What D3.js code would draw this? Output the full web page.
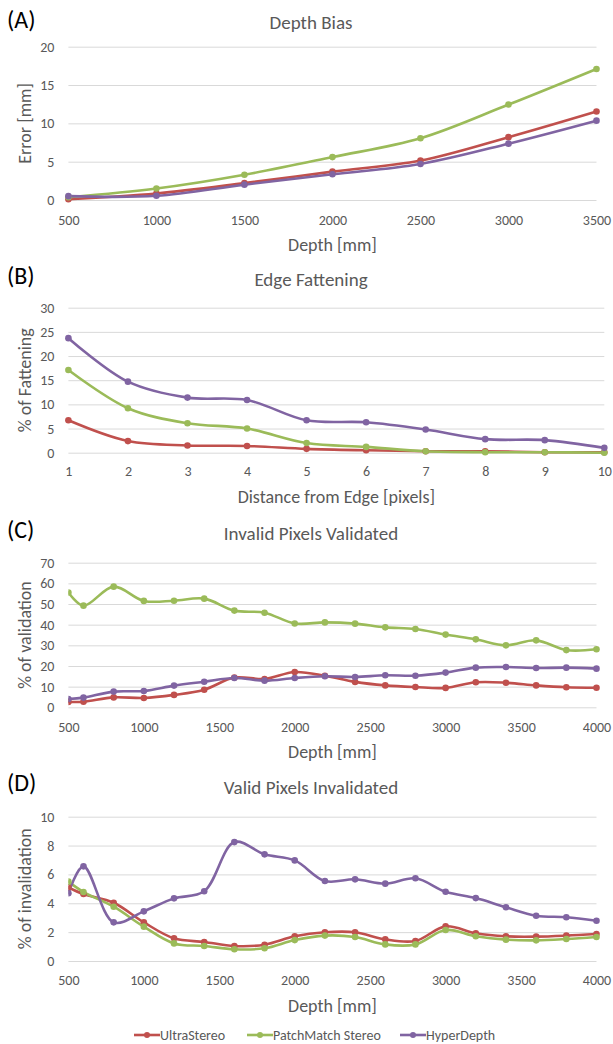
<!DOCTYPE html>
<html><head><meta charset="utf-8">
<script src="https://cdn.jsdelivr.net/npm/d3@7"></script>
<style>
html,body{margin:0;padding:0;background:#fff;}
svg text{font-family:Carlito,Lato,"Open Sans",sans-serif;}
</style></head>
<body>
<svg id="chart" width="613" height="1044"></svg>
<script>
// ---------- DATA ----------
const seriesNames = ["UltraStereo", "PatchMatch Stereo", "HyperDepth"];
const seriesColors = ["#C0504D", "#9BBB59", "#8064A2"];

// (A) Depth Bias
const depthA = [500, 1000, 1500, 2000, 2500, 3000, 3500];
const biasUltra = [0.1, 0.85, 2.2, 3.7, 5.15, 8.2, 11.55];
const biasPatch = [0.35, 1.5, 3.3, 5.6, 8.05, 12.45, 17.1];
const biasHyper = [0.5, 0.55, 2.0, 3.35, 4.7, 7.35, 10.35];
const ticksA_y = [0, 5, 10, 15, 20];
const ticksA_x = [500, 1000, 1500, 2000, 2500, 3000, 3500];

// (B) Edge Fattening
const distB = [1, 2, 3, 4, 5, 6, 7, 8, 9, 10];
const fatUltra = [6.7, 2.4, 1.5, 1.4, 0.8, 0.5, 0.3, 0.3, 0.1, 0.1];
const fatPatch = [17.1, 9.2, 6.1, 5.0, 2.0, 1.2, 0.3, 0.1, 0.1, 0.0];
const fatHyper = [23.7, 14.7, 11.4, 10.9, 6.7, 6.3, 4.8, 2.8, 2.6, 1.0];
const ticksB_y = [0, 5, 10, 15, 20, 25, 30];
const ticksB_x = [1, 2, 3, 4, 5, 6, 7, 8, 9, 10];

// (C) Invalid Pixels Validated / (D) Valid Pixels Invalidated
const depthCD = [500, 600, 800, 1000, 1200, 1400, 1600, 1800, 2000, 2200, 2400, 2600, 2800, 3000, 3200, 3400, 3600, 3800, 4000];
const valUltra = [2.6, 2.7, 4.8, 4.5, 6.0, 8.5, 14.4, 13.7, 17.1, 15.3, 12.3, 10.6, 9.8, 9.4, 12.1, 11.9, 10.6, 9.7, 9.5];
const valPatch = [55.6, 49.2, 58.4, 51.5, 51.6, 52.6, 46.8, 45.8, 40.6, 41.1, 40.5, 38.7, 37.9, 35.2, 32.9, 30.0, 32.4, 27.7, 28.1];
const valHyper = [4.0, 4.7, 7.6, 7.9, 10.5, 12.4, 14.2, 12.9, 14.2, 15.0, 14.7, 15.5, 15.3, 16.8, 19.2, 19.5, 19.0, 19.2, 18.7];
const ticksC_y = [0, 10, 20, 30, 40, 50, 60, 70];
const invUltra = [5.1, 4.64, 4.04, 2.68, 1.57, 1.32, 1.04, 1.13, 1.71, 1.99, 1.99, 1.5, 1.39, 2.4, 1.92, 1.71, 1.69, 1.76, 1.87];
const invPatch = [5.5, 4.78, 3.76, 2.38, 1.22, 1.04, 0.81, 0.88, 1.45, 1.76, 1.66, 1.15, 1.15, 2.15, 1.71, 1.48, 1.43, 1.52, 1.66];
const invHyper = [4.7, 6.56, 2.68, 3.44, 4.34, 4.83, 8.24, 7.39, 6.97, 5.54, 5.66, 5.36, 5.73, 4.80, 4.36, 3.72, 3.14, 3.03, 2.79];
const ticksD_y = [0, 2, 4, 6, 8, 10];
const ticksCD_x = [500, 1000, 1500, 2000, 2500, 3000, 3500, 4000];

const panelLabels = ["(A)", "(B)", "(C)", "(D)"];
const panelTitles = ["Depth Bias", "Edge Fattening", "Invalid Pixels Validated", "Valid Pixels Invalidated"];
const xTitles = ["Depth [mm]", "Distance from Edge [pixels]", "Depth [mm]", "Depth [mm]"];
const yTitles = ["Error [mm]", "% of Fattening", "% of validation", "% of invalidation"];

// ---------- LAYOUT ----------
const panels = [
  {x: depthA, ys: [biasUltra, biasPatch, biasHyper], xDom: [500, 3500], yDom: [0, 20], xt: ticksA_x, yt: ticksA_y,
   left: 68.4, right: 596.5, top: 46.7, bottom: 200, titleY: 29, labelY: 27.5, xtY: 225, xTitleY: 251, clip: false},
  {x: distB, ys: [fatUltra, fatPatch, fatHyper], xDom: [1, 10], yDom: [0, 30], xt: ticksB_x, yt: ticksB_y,
   left: 68.4, right: 604.3, top: 307.7, bottom: 452.7, titleY: 286, labelY: 283.5, xtY: 476, xTitleY: 502.5, clip: false},
  {x: depthCD, ys: [valUltra, valPatch, valHyper], xDom: [500, 4000], yDom: [0, 70], xt: ticksCD_x, yt: ticksC_y,
   left: 68.4, right: 596.5, top: 562.7, bottom: 707.3, titleY: 540, labelY: 537.5, xtY: 731.5, xTitleY: 757.5, clip: true},
  {x: depthCD, ys: [invUltra, invPatch, invHyper], xDom: [500, 4000], yDom: [0, 10], xt: ticksCD_x, yt: ticksD_y,
   left: 68.4, right: 596.5, top: 816.7, bottom: 961, titleY: 794, labelY: 790.5, xtY: 985, xTitleY: 1011.5, clip: true}
];

const svg = d3.select("#chart");
const textGray = "#595959";

panels.forEach((p, i) => {
  const g = svg.append("g");
  const xs = d3.scaleLinear().domain(p.xDom).range([p.left, p.right]);
  const ys = d3.scaleLinear().domain(p.yDom).range([p.bottom, p.top]);

  // gridlines + y tick labels via axis
  const yAxis = d3.axisLeft(ys).tickValues(p.yt).tickSize(-(p.right - p.left)).tickPadding(14).tickFormat(d3.format("d"));
  const ya = g.append("g").attr("transform", `translate(${p.left},0)`).call(yAxis);
  ya.select(".domain").remove();
  ya.selectAll(".tick line").attr("stroke", "#d9d9d9").attr("stroke-width", 1);
  ya.selectAll(".tick text").attr("fill", textGray).attr("font-size", 14).attr("x", -14);

  // x tick labels
  const xAxis = d3.axisBottom(xs).tickValues(p.xt).tickSize(0).tickFormat(d3.format("d"));
  const xa = g.append("g").attr("transform", `translate(0,${p.xtY})`).call(xAxis);
  xa.select(".domain").remove();
  xa.selectAll(".tick text").attr("fill", textGray).attr("font-size", 14).attr("dy", 0).attr("y", 0);

  // titles
  g.append("text").attr("x", 7).attr("y", p.labelY).attr("font-size", 24).attr("fill", "#000").text(panelLabels[i]);
  g.append("text").attr("x", 311).attr("y", p.titleY).attr("text-anchor", "middle").attr("font-size", 19).attr("fill", textGray).text(panelTitles[i]);
  g.append("text").attr("x", (p.left + p.right) / 2).attr("y", p.xTitleY).attr("text-anchor", "middle").attr("font-size", 18).attr("fill", textGray).text(xTitles[i]);
  g.append("text").attr("transform", `translate(31,${(p.top + p.bottom) / 2}) rotate(-90)`).attr("text-anchor", "middle").attr("font-size", 18).attr("fill", textGray).text(yTitles[i]);

  // clip
  const clipId = "clip" + i;
  svg.append("clipPath").attr("id", clipId).append("rect")
    .attr("x", p.left).attr("y", p.top - 20).attr("width", p.right - p.left + 10).attr("height", p.bottom - p.top + 40);

  const sg = g.append("g");
  if (p.clip) sg.attr("clip-path", `url(#${clipId})`);
  const line = d3.line().x((d, k) => xs(p.x[k])).y(d => ys(d)).curve(d3.curveCatmullRom.alpha(0.5));
  p.ys.forEach((vals, s) => {
    sg.append("path").datum(vals).attr("d", line).attr("fill", "none")
      .attr("stroke", seriesColors[s]).attr("stroke-width", 2.6).attr("stroke-linejoin", "round").attr("stroke-linecap", "round");
  });
  p.ys.forEach((vals, s) => {
    sg.selectAll(null).data(vals).enter().append("circle")
      .attr("cx", (d, k) => xs(p.x[k])).attr("cy", d => ys(d)).attr("r", 3.3).attr("fill", seriesColors[s]);
  });
});

// legend
const legendX = [134, 247, 400];
const legend = svg.append("g");
seriesNames.forEach((n, s) => {
  const lx = legendX[s], ly = 1035;
  legend.append("line").attr("x1", lx).attr("x2", lx + 26).attr("y1", ly).attr("y2", ly)
    .attr("stroke", seriesColors[s]).attr("stroke-width", 2.6);
  legend.append("circle").attr("cx", lx + 13).attr("cy", ly).attr("r", 3).attr("fill", seriesColors[s]);
  legend.append("text").attr("x", lx + 26).attr("y", ly + 5).attr("font-size", 14).attr("fill", textGray).text(n);
});
</script>
</body></html>
